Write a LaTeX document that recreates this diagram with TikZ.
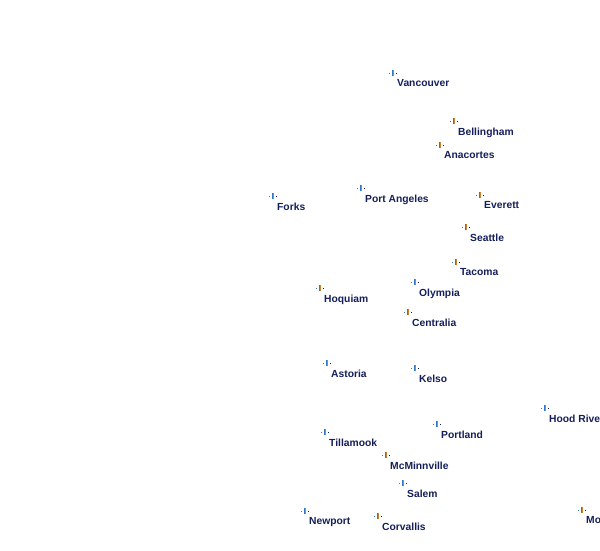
\documentclass[tikz,border=0pt]{standalone}
\usepackage{fontspec}
\setmainfont{Liberation Sans}
\usepackage{tikz}
\definecolor{citytext}{RGB}{20,30,90}
\definecolor{citydot}{RGB}{50,120,200}
\definecolor{cityedge}{RGB}{200,130,50}
\tikzset{
	citymark/.style={inner sep=0pt,minimum size=9pt,path picture={
		\coordinate (markc) at (path picture bounding box.center);
		% upright bar, split in two colours
		\fill[citydot] ([shift={(-0.8pt,-3pt)}]markc) rectangle ++(0.8pt,3.6pt);
		\fill[cityedge] ([shift={(0pt,-3pt)}]markc) rectangle ++(0.8pt,3.6pt);
		\fill[citydot] ([shift={(-0.8pt,1.4pt)}]markc) rectangle ++(0.8pt,1.4pt);
		\fill[cityedge] ([shift={(0pt,1.4pt)}]markc) rectangle ++(0.8pt,1.4pt);
		% side dots
		\fill[citydot] ([shift={(-4pt,-0.5pt)}]markc) rectangle ++(1pt,1pt);
		\fill[citytext] ([shift={(3pt,-0.5pt)}]markc) rectangle ++(1pt,1pt);
	}},
	citylabel/.style={anchor=north west,inner sep=0pt,text=citytext,font=\fontsize{10.3}{10.3}\selectfont\bfseries}
}
% pixels of the reference, y pointing down
\newcommand{\city}[4]{%
	\node[citymark] (#1) at (#2pt,-#3pt) {};
	\node[citylabel] (#1label) at ([shift={(4pt,-6.5pt)}]#1.center) {#4};
}
\begin{document}
\begin{tikzpicture}[x=1pt,y=1pt]
	\useasboundingbox (0pt,0pt) rectangle (600pt,-550pt);

	% Washington
	\city{vancouver}{393}{73}{Vancouver}
	\city{bellingham}{454}{121}{Bellingham}
	\city{anacortes}{440}{145}{Anacortes}
	\city{forks}{273}{196}{Forks}
	\city{portangeles}{361}{188}{Port Angeles}
	\city{everett}{480}{195}{Everett}
	\city{seattle}{466}{227}{Seattle}
	\city{tacoma}{456}{262}{Tacoma}
	\city{olympia}{415}{282}{Olympia}
	\city{hoquiam}{320}{288}{Hoquiam}
	\city{centralia}{408}{312}{Centralia}
	\city{kelso}{415}{368}{Kelso}

	% Oregon
	\city{astoria}{327}{363}{Astoria}
	\city{hoodriver}{545}{408}{Hood River}
	\city{portland}{437}{424}{Portland}
	\city{tillamook}{325}{432}{Tillamook}
	\city{mcminnville}{386}{455}{McMinnville}
	\city{salem}{403}{483}{Salem}
	\city{newport}{305}{511}{Newport}
	\city{corvallis}{378}{516}{Corvallis}
	\city{mo}{582}{510}{Mo}
\end{tikzpicture}
\end{document}
